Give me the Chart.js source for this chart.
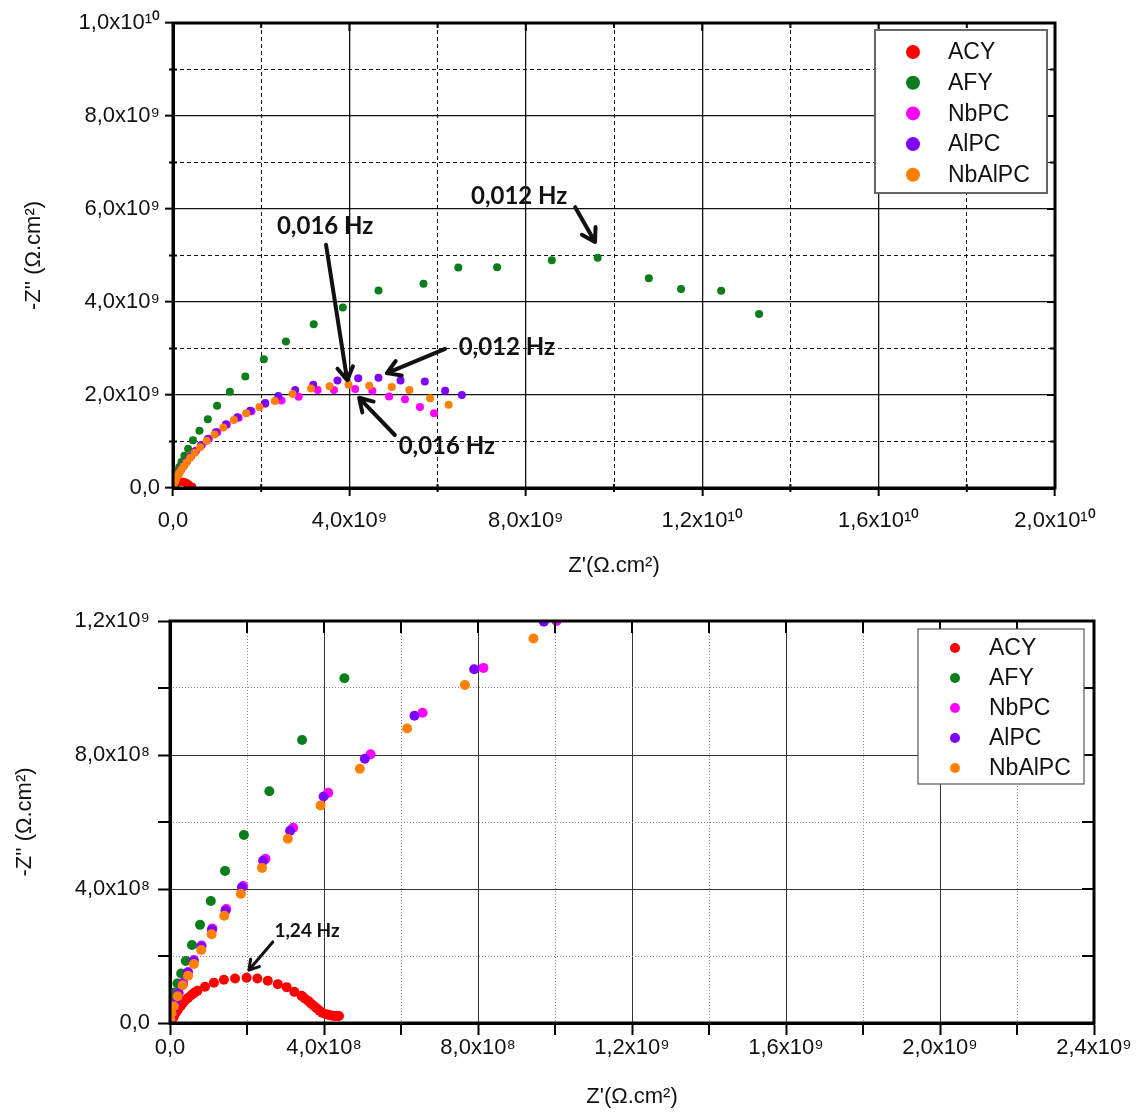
<!DOCTYPE html>
<html>
<head>
<meta charset="utf-8">
<script src="https://cdn.jsdelivr.net/npm/chart.js@4.4.1/dist/chart.umd.min.js"></script>
<style>
  html, body { margin: 0; padding: 0; background: #fff; }
  #wrap { position: relative; width: 1136px; height: 1117px; }
  canvas { position: absolute; left: 0; }
  #topChart { top: 0; }
  #bottomChart { top: 595px; }
</style>
</head>
<body>
<div id="wrap">
  <canvas id="topChart" width="1136" height="595"></canvas>
  <canvas id="bottomChart" width="1136" height="522"></canvas>
</div>
<script>
// --- DATA --- (Z' and -Z'' in units of 10^8 Ω.cm²)
const UNIT = 1e8;
const seriesNames = ['ACY', 'AFY', 'NbPC', 'AlPC', 'NbAlPC'];
const seriesColors = ['#ff0000', '#0b7d1a', '#ff00ff', '#7f00ff', '#ff8000'];
const drawOrder = [5, 4, 3, 2, 1];

const acyRe = [0.01, 0.03, 0.05, 0.09, 0.12, 0.17, 0.22, 0.28, 0.33, 0.39, 0.47, 0.55, 0.63, 0.71, 0.91, 1.14, 1.40, 1.69, 1.99, 2.27, 2.54, 2.80, 3.03, 3.23, 3.42, 3.50, 3.59, 3.66, 3.74, 3.81, 3.88, 3.95, 4.03, 4.10, 4.16, 4.22, 4.29, 4.34, 4.39];
const acyIm = [0.01, 0.04, 0.09, 0.17, 0.25, 0.34, 0.43, 0.51, 0.59, 0.67, 0.75, 0.83, 0.90, 0.96, 1.08, 1.20, 1.29, 1.33, 1.35, 1.33, 1.26, 1.16, 1.07, 0.93, 0.81, 0.73, 0.66, 0.58, 0.51, 0.44, 0.37, 0.31, 0.27, 0.25, 0.23, 0.22, 0.21, 0.21, 0.21];

const afyRe = [0.00, 0.01, 0.04, 0.10, 0.19, 0.29, 0.41, 0.57, 0.78, 1.06, 1.43, 1.92, 2.58, 3.43, 4.53, 6.0, 7.9, 10.0, 12.9, 16.4, 20.6, 25.6, 31.9, 38.5, 46.6, 56.8, 64.7, 73.5, 85.9, 96.3, 107.9, 115.2, 124.3, 132.9];
const afyIm = [0.10, 0.30, 0.64, 0.90, 1.18, 1.48, 1.85, 2.33, 2.93, 3.64, 4.54, 5.61, 6.92, 8.45, 10.29, 12.3, 14.8, 17.7, 20.7, 24.0, 27.7, 31.5, 35.2, 38.8, 42.5, 43.9, 47.4, 47.5, 49.0, 49.5, 45.1, 42.8, 42.4, 37.4];

const nbpcRe = [0.02, 0.05, 0.12, 0.22, 0.34, 0.47, 0.62, 0.82, 1.10, 1.46, 1.90, 2.48, 3.20, 4.11, 5.21, 6.56, 8.14, 10.04, 12.2, 14.9, 17.8, 20.9, 24.6, 28.5, 32.8, 36.5, 41.3, 45.2, 49.0, 52.6, 56.0, 59.2];
const nbpcIm = [0.12, 0.30, 0.60, 0.90, 1.20, 1.52, 1.88, 2.31, 2.82, 3.40, 4.09, 4.90, 5.83, 6.87, 8.02, 9.26, 10.60, 12.0, 13.6, 15.1, 16.5, 18.1, 18.8, 19.6, 21.1, 21.1, 21.3, 20.9, 19.7, 19.1, 17.4, 16.1];

const alpcRe = [0.02, 0.06, 0.13, 0.22, 0.33, 0.46, 0.61, 0.81, 1.09, 1.44, 1.87, 2.42, 3.12, 3.99, 5.06, 6.35, 7.90, 9.71, 12.0, 14.6, 17.5, 20.9, 23.9, 27.7, 31.8, 37.3, 42.0, 46.6, 51.6, 57.1, 61.7, 65.5];
const alpcIm = [0.15, 0.35, 0.60, 0.88, 1.17, 1.50, 1.85, 2.28, 2.78, 3.35, 4.05, 4.84, 5.74, 6.76, 7.89, 9.17, 10.56, 11.98, 13.7, 15.2, 16.6, 18.3, 19.8, 21.1, 22.2, 23.1, 23.6, 23.7, 23.1, 22.9, 20.9, 20.0];

const nbalpcRe = [0.01, 0.04, 0.10, 0.20, 0.33, 0.47, 0.62, 0.81, 1.08, 1.41, 1.84, 2.39, 3.06, 3.91, 4.93, 6.16, 7.66, 9.44, 11.4, 13.8, 16.6, 19.6, 23.1, 27.1, 31.3, 35.5, 39.8, 44.5, 49.6, 53.6, 58.3, 62.5];
const nbalpcIm = [0.10, 0.30, 0.50, 0.80, 1.13, 1.41, 1.76, 2.18, 2.65, 3.20, 3.86, 4.63, 5.50, 6.49, 7.59, 8.79, 10.09, 11.48, 13.0, 14.6, 16.1, 17.4, 18.7, 20.2, 21.4, 21.9, 22.2, 22.0, 21.7, 21.1, 19.3, 17.9];

const seriesRe = [acyRe, afyRe, nbpcRe, alpcRe, nbalpcRe];
const seriesIm = [acyIm, afyIm, nbpcIm, alpcIm, nbalpcIm];

// tick labels
const topXTicks = ['0,0', '4,0x10\u2079', '8,0x10\u2079', '1,2x10\u00b9\u2070', '1,6x10\u00b9\u2070', '2,0x10\u00b9\u2070'];
const topYTicks = ['0,0', '2,0x10\u2079', '4,0x10\u2079', '6,0x10\u2079', '8,0x10\u2079', '1,0x10\u00b9\u2070'];
const botXTicks = ['0,0', '4,0x10\u2078', '8,0x10\u2078', '1,2x10\u2079', '1,6x10\u2079', '2,0x10\u2079', '2,4x10\u2079'];
const botYTicks = ['0,0', '4,0x10\u2078', '8,0x10\u2078', '1,2x10\u2079'];

// frequency notes: text centre and arrow (from -> to), same units as the data
const topNoteText = ['0,012 Hz', '0,016 Hz', '0,012 Hz', '0,016 Hz'];
const topNoteAt = [[78.5, 62.8], [34.5, 56.3], [75.7, 30.3], [62.1, 9.0]];
const topArrowFrom = [[91.2, 60.4], [34.7, 52.3], [61.7, 29.9], [50.3, 11.4]];
const topArrowTo = [[95.7, 52.9], [39.5, 23.2], [48.5, 24.7], [42.2, 19.4]];
const botNoteText = ['1,24 Hz'];
const botNoteAt = [[3.56, 2.75]];
const botArrowFrom = [[2.67, 2.42]];
const botArrowTo = [[2.05, 1.58]];

// --- HELPERS ---
const FONT = "'Liberation Sans', Arial, sans-serif";

function pts(re, im) { return re.map((v, i) => ({ x: v * UNIT, y: im[i] * UNIT })); }
function isMajor(v, step) { const r = v / step; return Math.abs(r - Math.round(r)) < 1e-6; }
function notes(text, at, from, to) {
    return text.map((t, i) => ({ text: t, at: at[i], from: from[i], to: to[i] }));
}

// --- PLUGINS ---
const framePlugin = {
    id: 'frame',
    afterDraw(chart, args, o) {
        const { ctx, chartArea: a, scales } = chart;
        ctx.save();
        ctx.strokeStyle = '#000';
        ctx.lineWidth = o.width;
        ctx.strokeRect(a.left, a.top, a.right - a.left, a.bottom - a.top);
        ctx.lineWidth = 2;
        ctx.beginPath();
        scales.xm.ticks.forEach(t => {
            const px = scales.x.getPixelForValue(t.value);
            const major = isMajor(t.value, o.xStep);
            ctx.moveTo(px, a.top);
            ctx.lineTo(px, a.top + (major ? o.inMajor : o.inMinor));
            if (!major) { ctx.moveTo(px, a.bottom - o.minorIn); ctx.lineTo(px, a.bottom + o.minorOut); }
        });
        scales.ym.ticks.forEach(t => {
            const py = scales.y.getPixelForValue(t.value);
            const major = isMajor(t.value, o.yStep);
            ctx.moveTo(a.right, py);
            ctx.lineTo(a.right - (major ? o.inMajor : o.inMinor), py);
            if (!major) { ctx.moveTo(a.left + o.minorIn, py); ctx.lineTo(a.left - o.minorOut, py); }
        });
        ctx.stroke();
        ctx.restore();
    }
};

const boxPlugin = {
    id: 'box',
    afterDraw(chart, args, o) {
        const { ctx, chartArea: a } = chart;
        const left = a.right - o.right - o.w, top = a.top + o.top;
        ctx.save();
        ctx.fillStyle = '#fff';
        ctx.fillRect(left, top, o.w, o.h);
        ctx.strokeStyle = o.stroke;
        ctx.lineWidth = o.lw;
        ctx.strokeRect(left, top, o.w, o.h);
        ctx.font = o.font;
        ctx.textBaseline = 'middle';
        ctx.textAlign = 'left';
        chart.data.datasets.forEach((ds, i) => {
            const y = top + o.first + i * o.row;
            ctx.fillStyle = ds.backgroundColor;
            ctx.beginPath();
            ctx.arc(left + o.markX, y, o.markR, 0, Math.PI * 2);
            ctx.fill();
            ctx.fillStyle = '#111';
            ctx.fillText(ds.label, left + o.textX, y + 1);
        });
        ctx.restore();
    }
};

const notesPlugin = {
    id: 'notes',
    afterDatasetsDraw(chart, args, o) {
        const { ctx, scales: { x, y } } = chart;
        const X = v => x.getPixelForValue(v * UNIT), Y = v => y.getPixelForValue(v * UNIT);
        ctx.save();
        ctx.font = o.font;
        ctx.textAlign = 'center';
        ctx.textBaseline = 'middle';
        ctx.fillStyle = '#111';
        ctx.strokeStyle = '#111';
        ctx.lineWidth = o.lw;
        ctx.lineCap = 'round';
        ctx.lineJoin = 'round';
        o.items.forEach(n => {
            ctx.fillText(n.text, X(n.at[0]), Y(n.at[1]));
            const x0 = X(n.from[0]), y0 = Y(n.from[1]), x1 = X(n.to[0]), y1 = Y(n.to[1]);
            const ang = Math.atan2(y1 - y0, x1 - x0);
            ctx.beginPath();
            ctx.moveTo(x0, y0);
            ctx.lineTo(x1, y1);
            ctx.moveTo(x1 - o.head * Math.cos(ang - 0.55), y1 - o.head * Math.sin(ang - 0.55));
            ctx.lineTo(x1, y1);
            ctx.lineTo(x1 - o.head * Math.cos(ang + 0.55), y1 - o.head * Math.sin(ang + 0.55));
            ctx.stroke();
        });
        ctx.restore();
    }
};

// --- CHARTS ---
function buildChart(id, c) {
    const datasets = seriesNames.map((name, i) => ({
        label: name,
        data: pts(seriesRe[i], seriesIm[i]),
        backgroundColor: seriesColors[i],
        borderColor: seriesColors[i],
        pointRadius: c.pointR,
        pointHoverRadius: c.pointR,
        pointBorderWidth: 0,
        showLine: false,
        clip: 0,
        order: drawOrder[i]
    }));
    const tickFont = { family: FONT, size: 22 };
    const titleFont = { family: FONT, size: 22 };
    const minorColor = (step) => (ctx) => (ctx.tick && isMajor(ctx.tick.value, step)) ? 'rgba(0,0,0,0)' : c.minorColor;

    return new Chart(document.getElementById(id), {
        type: 'scatter',
        data: { datasets },
        options: {
            responsive: false,
            animation: false,
            events: [],
            layout: { padding: c.pad },
            plugins: {
                legend: { display: false },
                tooltip: { enabled: false },
                frame: c.frame,
                box: c.box,
                notes: c.notes
            },
            scales: {
                x: {
                    type: 'linear', position: 'bottom', min: 0, max: c.xMax,
                    afterFit: s => { s.height = c.xH; },
                    ticks: { stepSize: c.frame.xStep, callback: (v, i) => c.xLabels[i], font: tickFont, color: '#111', padding: c.xPad, maxRotation: 0, autoSkip: false },
                    grid: { color: c.majorColor, lineWidth: c.majorW, tickColor: '#000', tickWidth: 2, tickLength: c.tickLen },
                    border: { color: '#000', width: 3 },
                    title: { display: true, text: "Z'(\u03a9.cm\u00b2)", font: titleFont, color: '#111', padding: { top: 0, bottom: c.xTitlePad } }
                },
                xm: {
                    type: 'linear', position: 'bottom', min: 0, max: c.xMax,
                    afterFit: s => { s.height = 0; },
                    ticks: { display: false, stepSize: c.xMinor },
                    grid: { drawTicks: false, color: minorColor(c.frame.xStep), lineWidth: 1 },
                    border: { display: false, dash: c.dash }
                },
                y: {
                    type: 'linear', position: 'left', min: 0, max: c.yMax,
                    afterFit: s => { s.width = c.yW; },
                    ticks: { stepSize: c.frame.yStep, callback: (v, i) => c.yLabels[i], font: tickFont, color: '#111', padding: c.yPad, autoSkip: false },
                    grid: { color: c.majorColor, lineWidth: c.majorW, tickColor: '#000', tickWidth: 2, tickLength: c.tickLen },
                    border: { color: '#000', width: 3 },
                    title: { display: true, text: "-Z'' (\u03a9.cm\u00b2)", font: titleFont, color: '#111', padding: { top: c.yTitlePad, bottom: 0 } }
                },
                ym: {
                    type: 'linear', position: 'left', min: 0, max: c.yMax,
                    afterFit: s => { s.width = 0; },
                    ticks: { display: false, stepSize: c.yMinor },
                    grid: { drawTicks: false, color: minorColor(c.frame.yStep), lineWidth: 1 },
                    border: { display: false, dash: c.dash }
                }
            }
        },
        plugins: [framePlugin, boxPlugin, notesPlugin]
    });
}

buildChart('topChart', {
    pad: { left: 0, top: 23, right: 81, bottom: 0 },
    xMax: 2e10, yMax: 1e10, xMinor: 2e9, yMinor: 1e9,
    xLabels: topXTicks, yLabels: topYTicks,
    xH: 107, yW: 173, tickLen: 8, xPad: 12, yPad: 5,
    xTitlePad: 16, yTitlePad: 21,
    majorColor: '#111', majorW: 1.3, minorColor: '#111', dash: [4, 3],
    pointR: 4,
    frame: { width: 3, xStep: 4e9, yStep: 2e9, inMajor: 8, inMinor: 5, minorIn: 4, minorOut: 4 },
    box: { right: 8, top: 7, w: 172, h: 163, first: 22, row: 30.7, markX: 38, markR: 7, textX: 73, stroke: '#666', lw: 2, font: '23px ' + FONT },
    notes: { font: "bold 24px Lato, 'Open Sans', sans-serif", lw: 4, head: 15, items: notes(topNoteText, topNoteAt, topArrowFrom, topArrowTo) }
});

buildChart('bottomChart', {
    pad: { left: 0, top: 26, right: 42, bottom: 0 },
    xMax: 2.4e9, yMax: 1.2e9, xMinor: 2e8, yMinor: 2e8,
    xLabels: botXTicks, yLabels: botYTicks,
    xH: 94, yW: 170, tickLen: 12, xPad: 0, yPad: 8,
    xTitlePad: 7, yTitlePad: 12,
    majorColor: '#333', majorW: 1, minorColor: '#8a8a8a', dash: [1, 2],
    pointR: 5,
    frame: { width: 3, xStep: 4e8, yStep: 4e8, inMajor: 12, inMinor: 12, minorIn: 0, minorOut: 12 },
    box: { right: 10, top: 8, w: 166, h: 155, first: 19, row: 30, markX: 37, markR: 5, textX: 71, stroke: '#555', lw: 1.2, font: '23px ' + FONT },
    notes: { font: "bold 19px Lato, 'Open Sans', sans-serif", lw: 3, head: 11, items: notes(botNoteText, botNoteAt, botArrowFrom, botArrowTo) }
});
</script>
</body>
</html>
